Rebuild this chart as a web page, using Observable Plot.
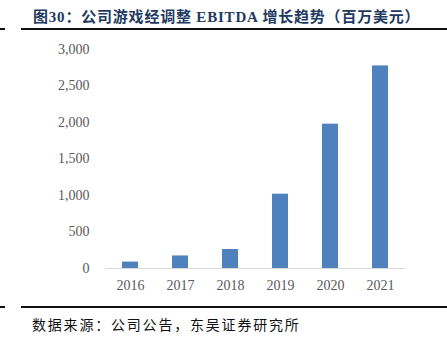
<!DOCTYPE html>
<html>
<head>
<meta charset="utf-8">
<script src="https://cdn.jsdelivr.net/npm/d3@7"></script>
<script src="https://cdn.jsdelivr.net/npm/@observablehq/plot@0.6"></script>
<style>
  body { margin: 0; background: #fff; }
  #wrap { position: relative; width: 447px; height: 344px; overflow: hidden; }
  .title { position: absolute; left: 33px; top: 5px; font-family: "Liberation Serif", "Noto Sans CJK SC", serif; font-weight: bold; font-size: 15px; color: #1f3a5f; white-space: nowrap; letter-spacing: 0.8px; }
  .rule { position: absolute; height: 2px; background: #111; }
  .caption { position: absolute; left: 32px; top: 314px; font-family: "Noto Sans CJK SC", sans-serif; font-size: 14px; color: #111; white-space: nowrap; letter-spacing: 1.8px; }
  #chart { position: absolute; left: 0; top: 30px; }
</style>
</head>
<body>
<div id="wrap">
  <div class="title">图30：公司游戏经调整 EBITDA 增长趋势（百万美元）</div>
  <div class="rule" style="left:0; width:5px; top:28px;"></div>
  <div class="rule" style="left:21px; right:0; top:28px;"></div>
  <div id="chart"></div>
  <div class="rule" style="left:0; width:5px; top:306px;"></div>
  <div class="rule" style="left:21px; right:0; top:306px;"></div>
  <div class="caption">数据来源：公司公告，东吴证券研究所</div>
</div>
<script>
const years = ["2016", "2017", "2018", "2019", "2020", "2021"];
const ebitda = [88, 172, 260, 1018, 1977, 2775];
const yTicks = [0, 500, 1000, 1500, 2000, 2500, 3000];

const data = years.map((y, i) => ({year: y, value: ebitda[i]}));

const chart = Plot.plot({
  width: 447,
  height: 270,
  marginLeft: 105,
  marginRight: 42,
  marginTop: 19,
  marginBottom: 32,
  style: { fontFamily: "'Liberation Serif', 'Times New Roman', serif", fontSize: "14px", color: "#595959", background: "transparent" },
  x: { domain: years, paddingInner: 0.68, paddingOuter: 0.34, label: null },
  y: { domain: [0, 3000], label: null },
  marks: [
    Plot.barY(data, { x: "year", y: "value", fill: "#4f81bd" }),
    Plot.ruleY([0], { stroke: "#d9d9d9", strokeWidth: 1 }),
    Plot.axisY({ ticks: yTicks, tickSize: 0, tickPadding: 16, tickFormat: d3.format(","), label: null, fill: "#595959" }),
    Plot.axisX({ tickSize: 0, tickPadding: 12, label: null, fill: "#595959" })
  ]
});
document.getElementById("chart").appendChild(chart);
</script>
</body>
</html>
